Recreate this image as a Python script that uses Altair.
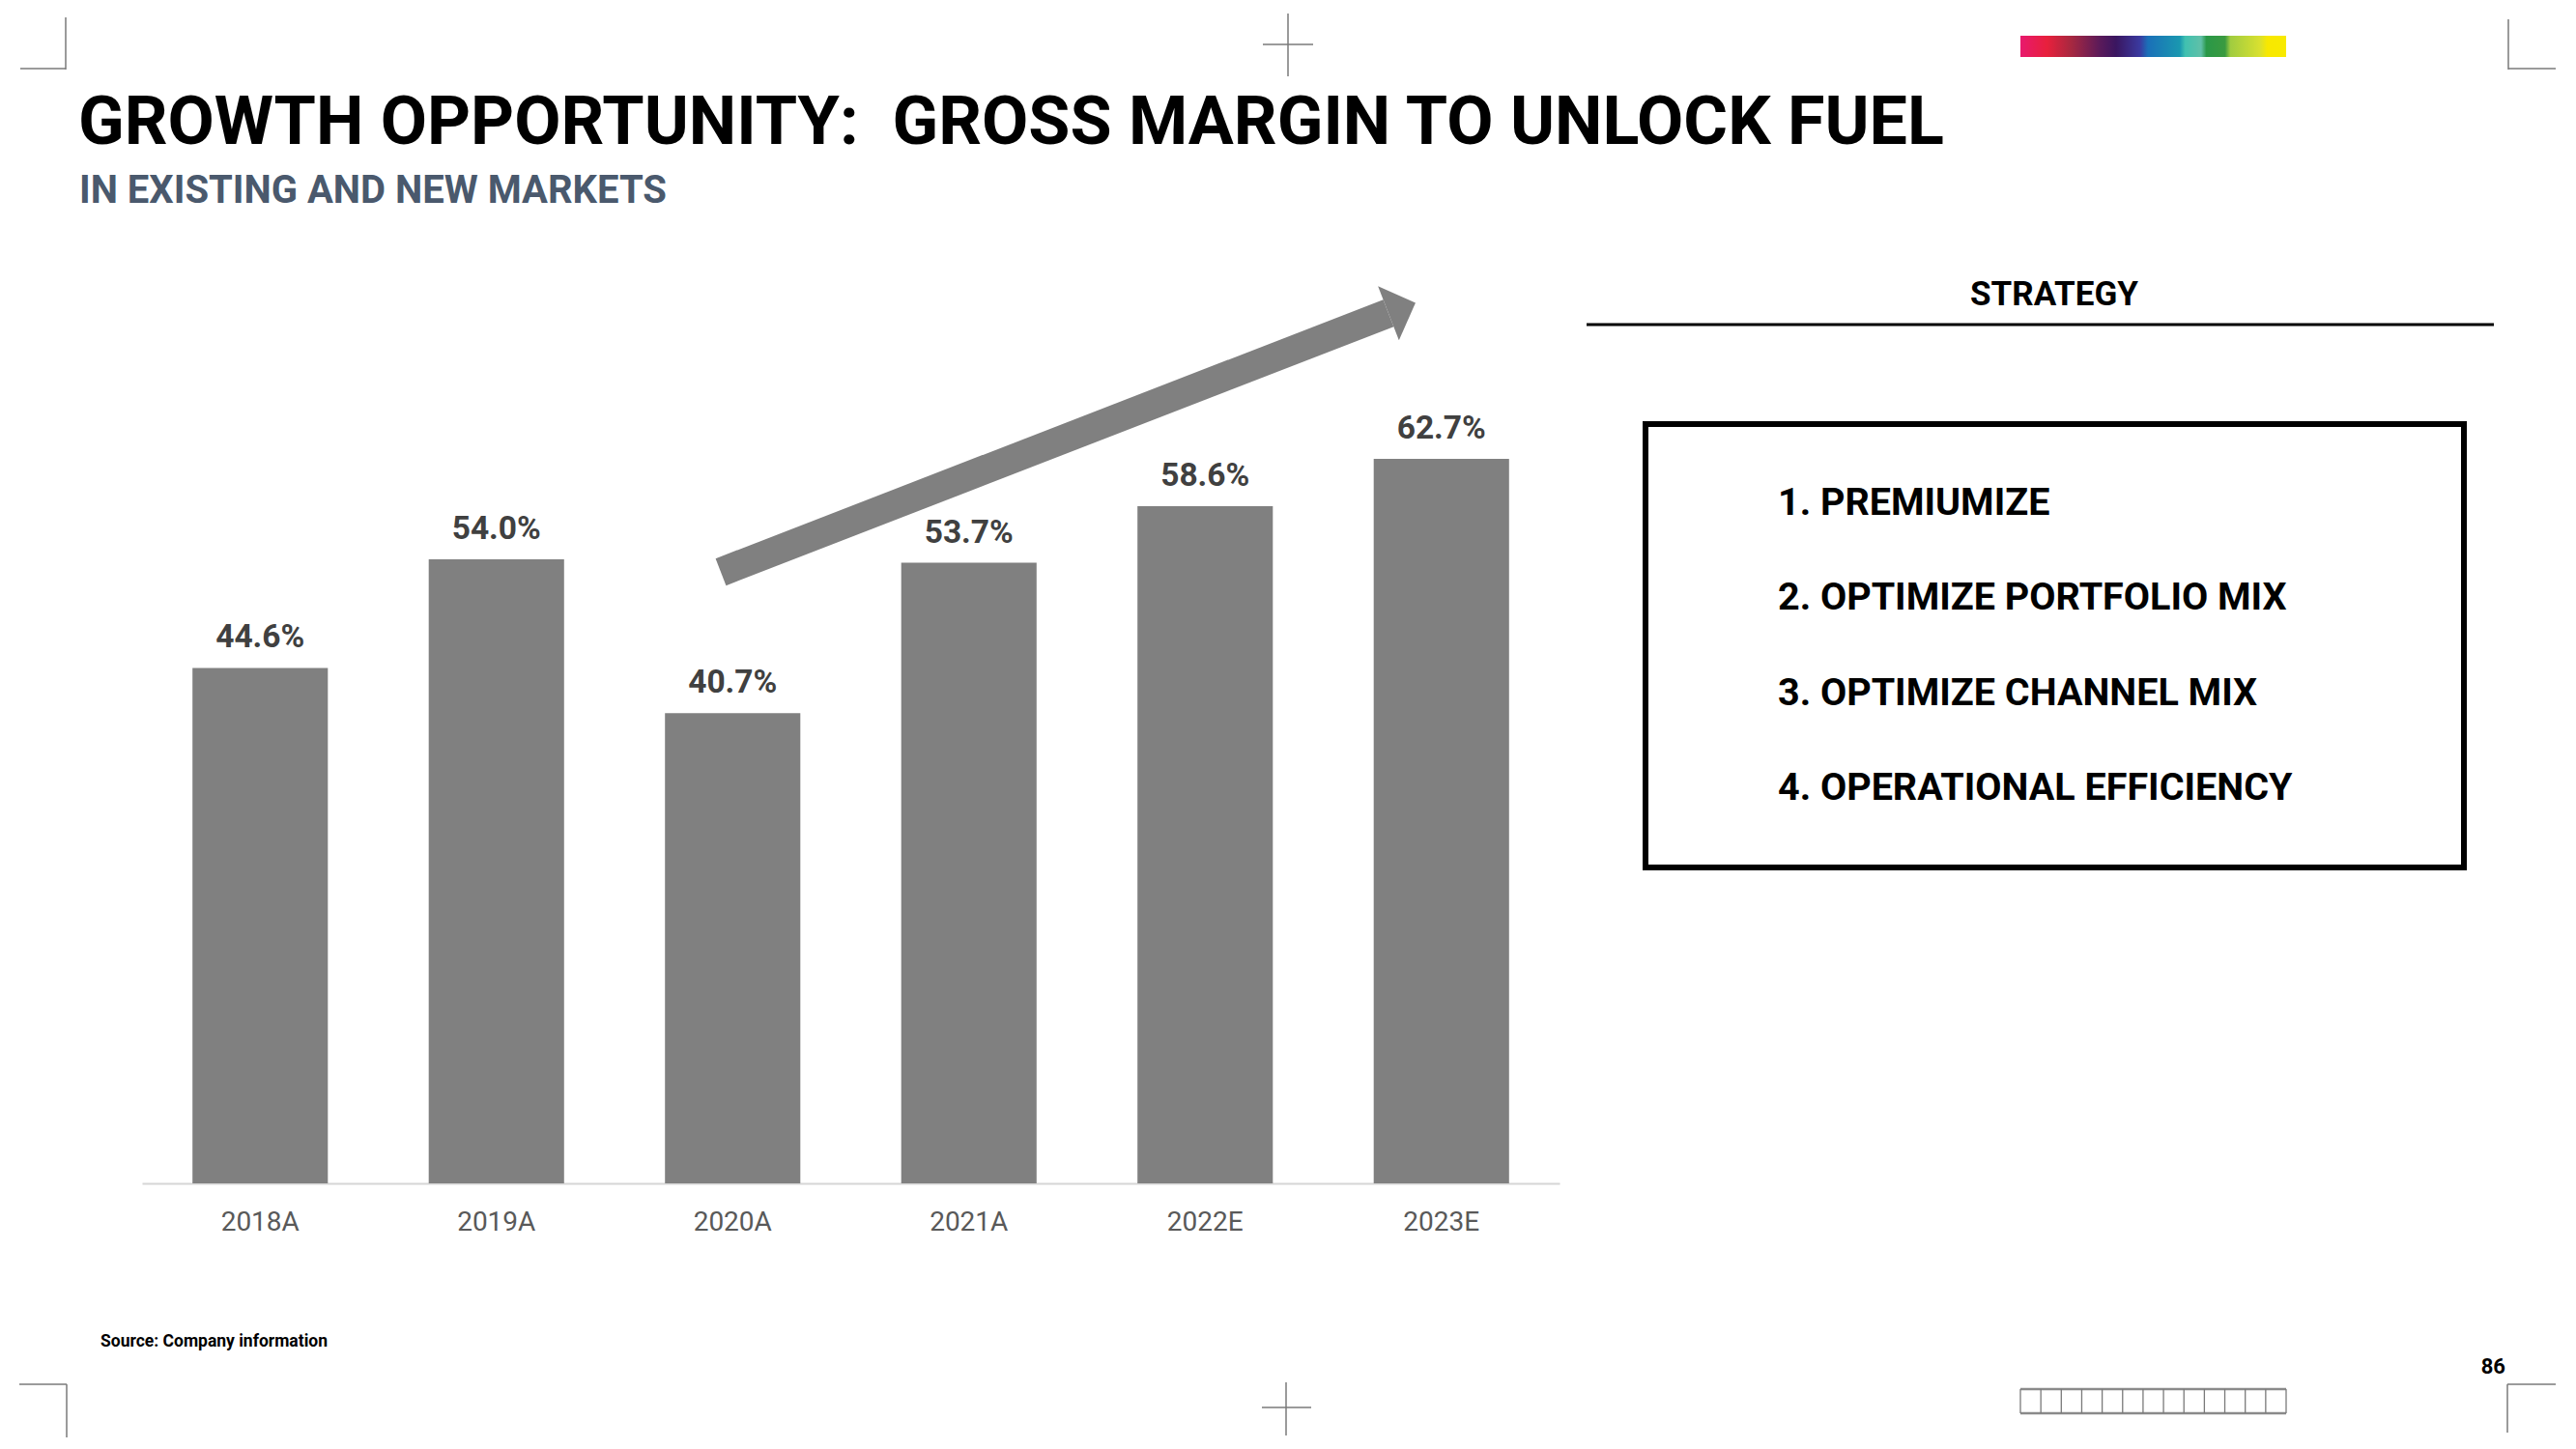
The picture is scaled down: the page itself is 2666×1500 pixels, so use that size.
import altair as alt
import pandas as pd

# ---------------- data ----------------
YEARS = ["2018A", "2019A", "2020A", "2021A", "2022E", "2023E"]
MARGIN = [44.6, 54.0, 40.7, 53.7, 58.6, 62.7]

TITLE = "GROWTH OPPORTUNITY:\u00a0 GROSS MARGIN TO UNLOCK FUEL"
SUBTITLE = "IN EXISTING AND NEW MARKETS"
STRATEGY_HEADER = "STRATEGY"
STRATEGY_ITEMS = [
    "1. PREMIUMIZE",
    "2. OPTIMIZE PORTFOLIO MIX",
    "3. OPTIMIZE CHANNEL MIX",
    "4. OPERATIONAL EFFICIENCY",
]
SOURCE = "Source: Company information"
PAGE = "86"

# trend arrow, tail -> head, in (category-band units, % units)
ARROW_X = [2.45, 5.276]
ARROW_Y = [52.9, 75.3]

# brand colour strip (gradient stops)
STRIP_COLORS = ["#e8196e", "#e8203c", "#a82840", "#5a1a5a", "#3a1660", "#3a3aa0",
                "#1a70b8", "#1a98b0", "#40c0b0", "#60c0a8", "#2a9848", "#3a9a40",
                "#a0cc40", "#d8e030", "#f8e800", "#f8ea00"]
STRIP_OFFSETS = [0.0, 0.10, 0.19, 0.30, 0.36, 0.45, 0.48, 0.60, 0.62, 0.68, 0.70,
                 0.77, 0.79, 0.90, 0.93, 1.0]

# ---------------- layout constants ----------------
FONT = "Roboto"
W, H = 1467, 957
OX, OY = 147, 268
GRAY = "#808080"
MARK = "#7a7a7a"

df = pd.DataFrame({"year": YEARS, "margin": MARGIN})
df["label"] = [f"{v:.1f}%" for v in MARGIN]

AXIS = alt.Axis(title=None, domainColor="#d6d6d6", domainWidth=2, ticks=False, tickSize=0,
                labelPadding=48, labelBaseline="alphabetic", labelFontSize=28,
                labelColor="#595959", labelFont=FONT, labelAngle=0, grid=False)
XBAND = alt.Scale(paddingInner=0.427, paddingOuter=0.2135)
YSCALE = alt.Scale(domain=[0, 80], nice=False, zero=True)

bars = alt.Chart(df).mark_bar(color=GRAY).encode(
    x=alt.X("year:N", sort=YEARS, scale=XBAND, axis=AXIS),
    y=alt.Y("margin:Q", scale=YSCALE, axis=None),
)
bar_labels = alt.Chart(df).mark_text(
    dy=-21, baseline="alphabetic", align="center", fontSize=33.5, fontWeight="bold",
    color="#404040", font=FONT,
).encode(
    x=alt.X("year:N", sort=YEARS, scale=XBAND, axis=AXIS),
    y=alt.Y("margin:Q", scale=YSCALE, axis=None),
    text="label:N",
)
bar_layer = alt.layer(bars, bar_labels)

arrow_df = pd.DataFrame({"x0": [ARROW_X[0]], "y0": [ARROW_Y[0]],
                         "x1": [ARROW_X[1]], "y1": [ARROW_Y[1]]})
XQ = alt.Scale(domain=[0, 6], nice=False, zero=False)
shaft = alt.Chart(arrow_df).mark_rule(strokeWidth=30, color=GRAY, strokeCap="butt").encode(
    x=alt.X("x0:Q", scale=XQ, axis=None),
    y=alt.Y("y0:Q", scale=YSCALE, axis=None),
    x2="x1:Q", y2="y1:Q",
)
head = alt.Chart(arrow_df).mark_point(
    shape="M0,-1L1,0L0,1Z", size=3600, filled=True, opacity=1, angle=338.8,
    color=GRAY, strokeWidth=0,
).encode(
    x=alt.X("x1:Q", scale=XQ, axis=None),
    y=alt.Y("y1:Q", scale=YSCALE, axis=None),
)
arrow_layer = alt.layer(shaft, head)

one = pd.DataFrame({"k": [0]})


def txt(s, x, y, size, weight="bold", color="#000000", align="left"):
    return alt.Chart(pd.DataFrame({"t": [s]})).mark_text(
        align=align, baseline="alphabetic", fontSize=size, fontWeight=weight,
        color=color, font=FONT,
    ).encode(x=alt.value(x - OX), y=alt.value(y - OY), text="t:N")


def line(x1, y1, x2, y2, color=MARK, w=1.5):
    return alt.Chart(one).mark_rule(color=color, strokeWidth=w).encode(
        x=alt.value(x1 - OX), y=alt.value(y1 - OY),
        x2=alt.value(x2 - OX), y2=alt.value(y2 - OY),
    )


decor = []
decor.append(txt(TITLE, 81, 149, 70))
decor.append(txt(SUBTITLE, 82, 210, 40, color="#4a596d"))
decor.append(txt(STRATEGY_HEADER, 2126, 316, 35, align="center"))
decor.append(line(1642, 336, 2581, 336, color="#000000", w=3))
decor.append(
    alt.Chart(one).mark_rect(fillOpacity=0, stroke="#000000", strokeWidth=6).encode(
        x=alt.value(1703 - OX), x2=alt.value(2550 - OX),
        y=alt.value(439 - OY), y2=alt.value(898 - OY),
    )
)
for i, item in enumerate(STRATEGY_ITEMS):
    decor.append(txt(item, 1840, 533 + i * 98.4, 39.5))
decor.append(txt(SOURCE, 104, 1394, 17.5))
decor.append(txt(PAGE, 2593, 1422, 22, align="right"))

# colour strip
decor.append(
    alt.Chart(one).mark_rect(
        fill=alt.Gradient(
            gradient="linear", x1=0, x2=1, y1=0, y2=0,
            stops=[alt.GradientStop(color=c, offset=o) for c, o in zip(STRIP_COLORS, STRIP_OFFSETS)],
        )
    ).encode(
        x=alt.value(2091 - OX), x2=alt.value(2366 - OX),
        y=alt.value(37 - OY), y2=alt.value(59 - OY),
    )
)

# film strip (bottom right)
fx0, fx1, fy0, fy1 = 2091, 2366, 1438, 1463
decor.append(line(fx0, fy0, fx1, fy0, color="#8a8a8a", w=2.5))
decor.append(line(fx0, fy1, fx1, fy1, color="#8a8a8a", w=2.5))
for i in range(14):
    xx = fx0 + i * (fx1 - fx0) / 13
    decor.append(line(xx, fy0, xx, fy1, color="#7a7a7a", w=1.3))

# crop marks
decor += [
    line(68, 18, 68, 72), line(21, 71, 68, 71),
    line(1333, 14, 1333, 79), line(1307, 46, 1359, 46),
    line(2596, 20, 2596, 72), line(2596, 71, 2645, 71),
    line(20, 1433, 69, 1433), line(69, 1433, 69, 1488),
    line(1331, 1431, 1331, 1486), line(1306, 1457, 1357, 1457),
    line(2595, 1433, 2645, 1433), line(2595, 1433, 2595, 1483),
]

chart = alt.layer(bar_layer, arrow_layer, *decor).resolve_scale(
    x="independent"
).properties(
    width=W, height=H,
    padding={"left": OX, "top": OY, "right": 2666 - OX - W, "bottom": 1500 - OY - H},
    autosize=alt.AutoSizeParams(type="none"),
    background="white",
).configure_view(strokeWidth=0)

chart.save("out.html", embed_options={"renderer": "svg", "actions": False})
